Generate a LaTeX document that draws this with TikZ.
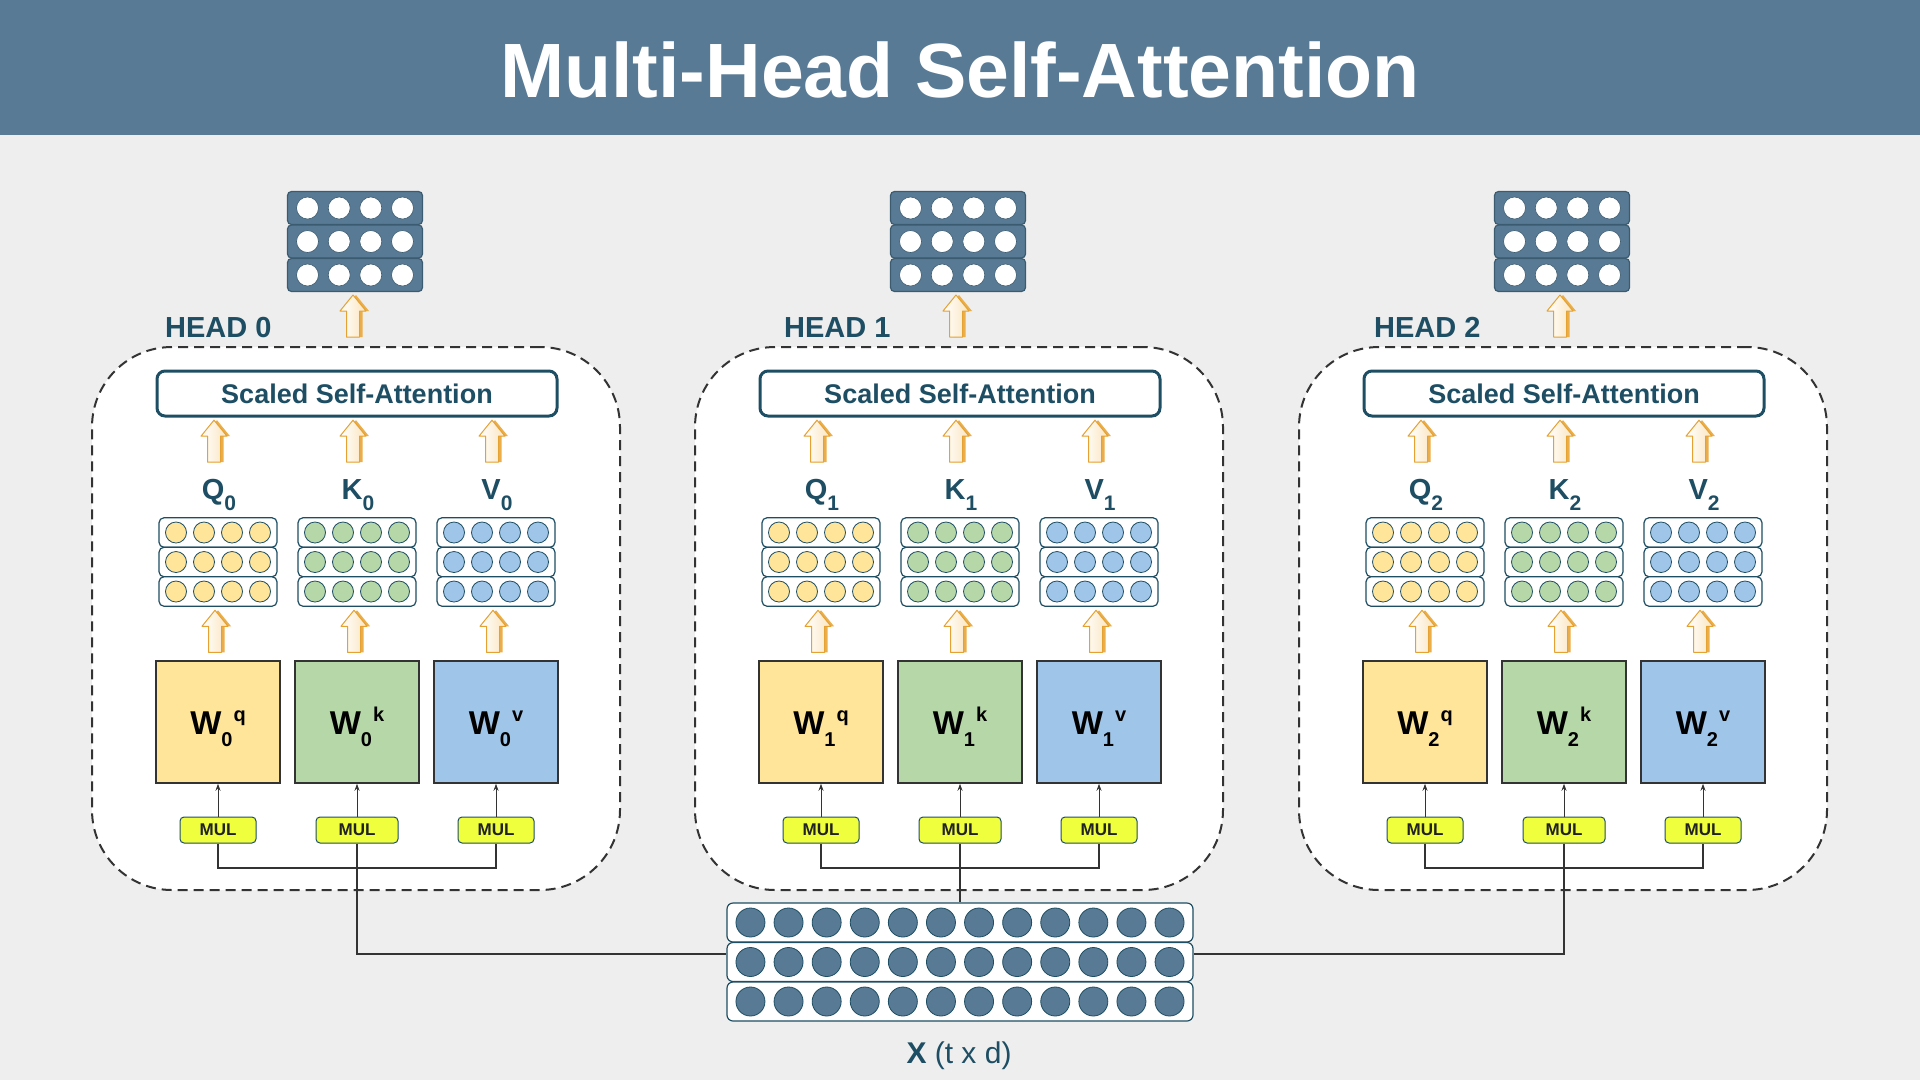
\documentclass[tikz,border=0pt]{standalone}
\usepackage{fontspec}
\setmainfont{Liberation Sans}
\usepackage{xcolor}
\usetikzlibrary{arrows.meta,positioning}

\definecolor{barblue}{HTML}{587A94}
\definecolor{headink}{HTML}{1D4E63}
\definecolor{outink}{HTML}{3B5B70}
\definecolor{paper}{HTML}{EEEEEE}
\definecolor{qfill}{HTML}{FFE599}
\definecolor{kfill}{HTML}{B6D7A8}
\definecolor{vfill}{HTML}{9FC5E8}
\definecolor{mulfill}{HTML}{EFFF3D}
\definecolor{mulink}{HTML}{222222}
\definecolor{arrowline}{HTML}{E5A131}
\definecolor{arrowdark}{HTML}{EAAE4A}
\definecolor{arrowfill}{HTML}{FBE5BE}
\definecolor{wireink}{HTML}{333333}

\tikzset{
  headframe/.style={draw=wireink, fill=white, line width=2pt, dash pattern=on 10pt off 6pt,
    rounded corners=80pt, minimum width=528pt, minimum height=543pt, inner sep=0pt},
  ssabox/.style={draw=headink, fill=white, line width=3pt, rounded corners=8pt, minimum width=400pt,
    minimum height=45pt, inner sep=0pt, text=headink, font=\fontsize{27}{27}\selectfont\bfseries},
  headlabel/.style={text=headink, font=\fontsize{29}{29}\selectfont\bfseries, inner sep=0pt},
  veclabel/.style={text=headink, font=\fontsize{29}{29}\selectfont\bfseries, inner sep=0pt},
  outrow/.style={draw=outink, fill=barblue, line width=1.2pt, rounded corners=4pt, minimum width=135pt,
    minimum height=33pt, inner sep=0pt},
  outdot/.style={circle, draw=outink, fill=white, line width=0.6pt, minimum size=22pt, inner sep=0pt},
  vecrow/.style={draw=headink, fill=white, line width=1.2pt, rounded corners=5pt, minimum width=118pt,
    minimum height=29.5pt, inner sep=0pt},
  vecdot/.style={circle, draw=headink, line width=0.8pt, minimum size=21pt, inner sep=0pt},
  wbox/.style={draw=wireink, line width=1.5pt, minimum width=124pt, minimum height=122pt, inner sep=0pt},
  wlabel/.style={text=black, font=\fontsize{33}{33}\selectfont\bfseries, inner sep=0pt},
  mulbox/.style={draw=headink, fill=mulfill, line width=1pt, rounded corners=4pt, minimum height=26pt,
    inner sep=0pt, text=mulink, font=\fontsize{17}{17}\selectfont\bfseries},
  xrow/.style={draw=headink, fill=white, line width=1.2pt, rounded corners=6pt, minimum width=466pt,
    minimum height=39pt, inner sep=0pt},
  xdot/.style={circle, draw=headink, fill=barblue, line width=0.8pt, minimum size=29pt, inner sep=0pt},
  wire/.style={draw=wireink, line width=1.2pt},
  pics/liftarrow/.style={code={
    \fill[arrowdark] (-3.5,0) -- (-3.5,-26) -- (-10,-26) -- (3,-42) -- (16,-26) -- (9.5,-26) -- (9.5,0) -- cycle;
    \draw[arrowline, line width=1pt, line join=round, left color=white, right color=arrowfill]
      (-6.5,0) -- (-6.5,-26) -- (-13,-26) -- (0,-42) -- (13,-26) -- (6.5,-26) -- (6.5,0) -- cycle;
  }}
}

\begin{document}
\begin{tikzpicture}[x=1pt,y=-1pt]
  % Canvas and title bar
  \fill[paper] (0,0) rectangle (1920,1080);
  \useasboundingbox (0,0) rectangle (1920,1080);
  \fill[barblue] (0,0) rectangle (1920,135);
  \node[anchor=base, text=white, font=\fontsize{77}{77}\selectfont\bfseries, inner sep=0pt] (title)
    at (960,97) {Multi-Head Self-Attention};

  % Heads
  \foreach \h/\c/\hx in {0/357/165,1/960/784,2/1564/1374} {
    \node[headframe] (frame\h) at (\c-1,618.5) {};
    \node[headlabel, anchor=base west] (hl\h) at (\hx,337) {HEAD \h};

    % Output of the head
    \foreach \r/\y in {1/208,2/241.5,3/275} {
      \node[outrow] (o\h-\r) at (\c-2,\y) {};
      \foreach \i/\dx in {1/-47.5,2/-15.8,3/15.8,4/47.5}
        \node[outdot] (o\h-\r-\i) at ([xshift=\dx pt]o\h-\r.center) {};
    }
    \pic at ([xshift=-3pt,yshift=9pt]frame\h.north) {liftarrow};

    \node[ssabox] (ssa\h) at (\c,393.5) {Scaled Self-Attention};

    % Q, K, V columns
    \foreach \k/\dx/\col/\L/\mw in {q/-139/qfill/Q/76,k/0/kfill/K/82,v/139/vfill/V/76} {
      \node[veclabel, anchor=base] (lab\k\h) at (\c+\dx+1,499)
        {\L\raisebox{-11pt}{\fontsize{21}{21}\selectfont\h}};
      \foreach \r/\y in {1/532.5,2/562,3/591.5} {
        \node[vecrow] (\k\h-\r) at (\c+\dx,\y) {};
        \foreach \i/\ox in {1/-42,2/-14,3/14,4/42}
          \node[vecdot, fill=\col] (\k\h-\r-\i) at ([xshift=\ox pt]\k\h-\r.center) {};
      }
      \pic at ([xshift=-4pt,yshift=55pt]\k\h-1.north) {liftarrow};

      \node[wbox, fill=\col] (w\k\h) at (\c+\dx,722) {};
      \node[wlabel, anchor=base] (wl\k\h) at ([yshift=-12pt]w\k\h.center)
        {W\raisebox{-12pt}{\fontsize{20}{20}\selectfont\h}\kern1pt\raisebox{13pt}{\fontsize{20}{20}\selectfont\k}};
      \pic at ([xshift=-3pt,yshift=8pt]w\k\h.north) {liftarrow};

      \node[mulbox, minimum width=\mw pt] (mul\k\h) at (\c+\dx,830) {MUL};
      \draw[wire, line width=1pt, -{Stealth[length=7pt,width=5pt]}] (mul\k\h) -- (w\k\h);
    }

    % Bus joining the MUL boxes
    \coordinate (bus\h) at (\c,868);
    \draw[wire] (mulq\h) |- (bus\h) -| (mulv\h);
    \draw[wire] (mulk\h) -- (bus\h);
  }

  % Input X
  \foreach \r/\y in {1/922.5,2/962,3/1001.5} {
    \node[xrow] (x-\r) at (960,\y) {};
    \foreach \i in {0,...,11}
      \node[xdot] (x-\r-\i) at ([xshift={(\i-5.5)*38.1}]x-\r.center) {};
  }
  \node[anchor=base, text=headink, font=\fontsize{30}{30}\selectfont, inner sep=0pt] (xlab)
    at (959,1063) {\textbf{X} (t x d)};

  % X feeds every head
  \draw[wire] (bus0) |- ([yshift=8pt]x-2.west);
  \draw[wire] (bus1) -- (x-1);
  \draw[wire] (bus2) |- ([yshift=8pt]x-2.east);
\end{tikzpicture}
\end{document}
